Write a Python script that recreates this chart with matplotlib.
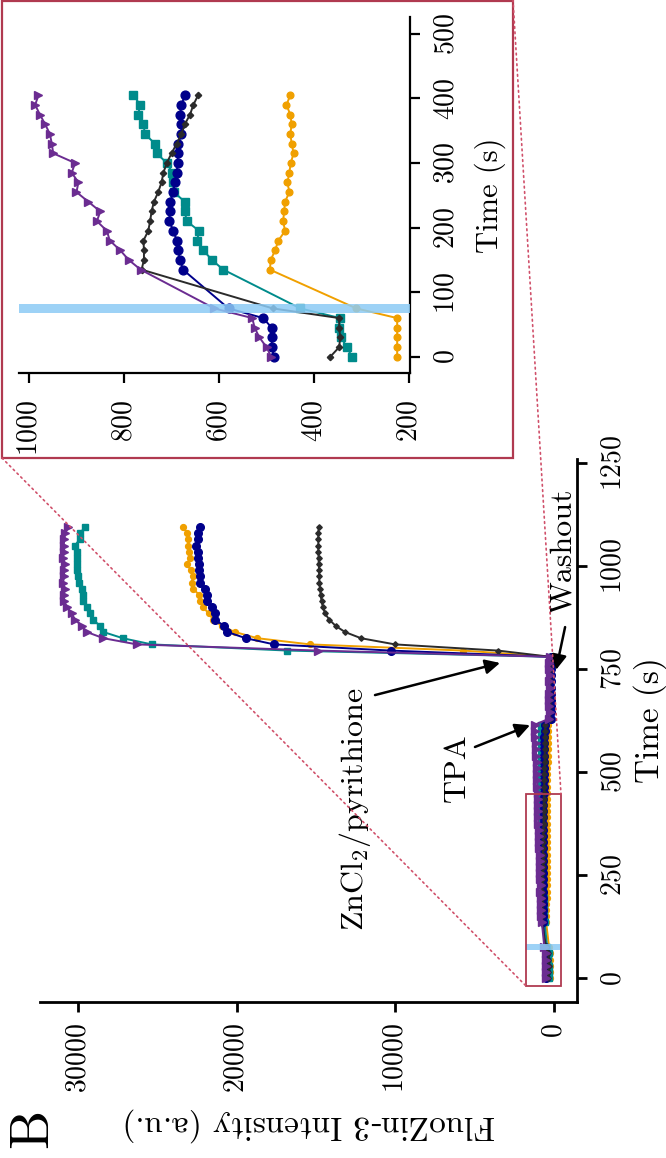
import matplotlib
matplotlib.use("Agg")
import matplotlib.pyplot as plt
from matplotlib.patches import Rectangle, ConnectionPatch

plt.rcParams['font.family'] = 'cmr10'
plt.rcParams['mathtext.fontset'] = 'cm'
plt.rcParams['axes.unicode_minus'] = False
plt.rcParams['axes.formatter.use_mathtext'] = True

# ---------------- data ----------------
time_s = [0, 15, 30, 45, 60, 75] + list(range(135, 1096, 15))

purple = ([490, 500, 515, 525, 530, 610]
          + [765, 790, 808, 830, 836, 857, 850, 875, 900, 896, 910, 903, 949, 952, 956, 966, 977, 987, 980]
          + [1005, 1012, 1038, 1041, 1066, 1070, 1098, 1102, 1125, 1131, 1158, 1166, 1190, 1215]
          + [290, 280, 300, 285, 290, 275, 295, 280, 290, 285, 260]
          + [14850, 26290, 28390, 29440, 29760, 30180, 30390, 30700, 30850, 30900, 30800,
             30950, 30850, 30900, 30800, 30950, 30850, 30900, 30850, 30800, 30600])

teal = ([320, 331, 343, 347, 345, 429]
        + [591, 615, 633, 646, 642, 668, 672, 672, 695, 696, 698, 710, 731, 735, 756, 759, 770, 766, 780]
        + [784, 795, 790, 802, 799, 810, 806, 815, 812, 822, 818, 827, 825, 834]
        + [240, 230, 245, 235, 240, 228, 238, 232, 240, 235, 225]
        + [16800, 25350, 27170, 28390, 28600, 29060, 29270, 29400, 29650, 29690, 29760,
           29920, 30010, 30030, 30070, 30030, 30030, 30180, 29900, 29860, 29550])

navy = ([484, 489, 489, 489, 507, 580]
        + [676, 682, 686, 689, 696, 705, 703, 703, 696, 693, 689, 687, 687, 686, 679, 679, 682, 679, 672]
        + [670, 662, 661, 652, 650, 641, 638, 630, 627, 616, 612, 600, 596, 588]
        + [210, 205, 215, 200, 210, 205, 212, 200, 208, 205, 200]
        + [10300, 17640, 19420, 20580, 20790, 21360, 21360, 21570, 21880, 21880, 21990,
           22300, 22300, 22340, 22340, 22410, 22450, 22550, 22410, 22450, 22300])

orange = ([225, 225, 225, 225, 225, 311]
          + [493, 491, 482, 475, 461, 465, 463, 461, 452, 456, 452, 449, 443, 447, 450, 447, 450, 458, 450]
          + [446, 437, 439, 430, 427, 419, 416, 404, 399, 388, 382, 370, 364, 350]
          + [180, 175, 185, 178, 182, 176, 184, 178, 180, 176, 170]
          + [5730, 15370, 18690, 20100, 20950, 21460, 21770, 22090, 22300, 22340, 22760,
             22830, 22760, 22890, 23140, 22930, 22970, 23040, 23040, 23100, 23400])

black = ([366, 347, 345, 347, 347, 487]
         + [763, 758, 758, 759, 749, 745, 742, 737, 728, 721, 717, 710, 700, 689, 679, 672, 661, 654, 644]
         + [640, 631, 629, 619, 616, 607, 604, 595, 591, 582, 579, 569, 566, 557]
         + [260, 255, 262, 250, 258, 252, 260, 250, 255, 250, 240]
         + [3530, 10020, 12160, 13170, 13760, 14160, 14430, 14560, 14650, 14700, 14750,
            14780, 14800, 14800, 14830, 14830, 14850, 14850, 14850, 14850, 14830])

series = [
    (orange, '#f0a000', 'o', 4.2),
    (teal, '#008b8b', 's', 4.5),
    (navy, '#00008b', 'o', 5.5),
    (black, '#2b2b2b', 'D', 2.8),
    (purple, '#6b2c91', '>', 5.5),
]

main_xticks = [0, 10000, 20000, 30000]
main_yticks = [0, 250, 500, 750, 1000, 1250]
inset_xticks = [200, 400, 600, 800, 1000]
inset_yticks = [0, 100, 200, 300, 400, 500]
band = (68, 82)
zoom_box = (-440, 1765, -19, 447)   # intensity range, time range

W, H = 666, 1158
fig = plt.figure(figsize=(W / 100, H / 100), dpi=100)

def style_axes(ax, spine_w):
    ax.spines['top'].set_visible(False)
    ax.spines['left'].set_visible(False)
    ax.spines['bottom'].set_linewidth(spine_w)
    ax.spines['right'].set_linewidth(spine_w)
    ax.yaxis.tick_right()
    ax.yaxis.set_label_position('right')
    ax.tick_params(direction='out', length=7, width=spine_w, labelsize=20)
    ax.patch.set_alpha(0)

# ---------------- main axes ----------------
ax = fig.add_axes([40 / W, 1 - 1002 / H, (577 - 40) / W, (1002 - 459) / H])
for vals, c, m, ms in series:
    ax.plot(vals, time_s, color=c, marker=m, ms=ms, lw=1.4, mec=c)
ax.set_xlim(32390, -1450)
ax.set_ylim(-58, 1260)
style_axes(ax, 2.0)
ax.set_xticks(main_xticks)
ax.set_yticks(main_yticks)
ax.tick_params(axis='x', labelrotation=90, pad=8)
ax.tick_params(axis='y', labelrotation=90, pad=10)
for lab in ax.get_yticklabels():
    lab.set_va('center')
ax.set_ylabel('Time (s)', fontsize=24, rotation=90)
ax.yaxis.set_label_coords(1.105, 0.52)
ax.set_xlabel('FluoZin-3 Intensity (a.u.)', fontsize=24, rotation=180)
ax.xaxis.set_label_coords(0.5, -0.195)

ax.fill_betweenx(list(band), zoom_box[0], zoom_box[1], color='#8ccbf5', alpha=0.85, lw=0, zorder=5)
ax.add_patch(Rectangle((zoom_box[0], zoom_box[2]), zoom_box[1] - zoom_box[0], zoom_box[3] - zoom_box[2],
                       fill=False, ec='#b03a50', lw=1.3, zorder=6))

arrow_kw = dict(arrowstyle='-|>', color='black', lw=1.8, mutation_scale=22, shrinkA=0, shrinkB=0)
ax.text(12540, 410, 'ZnCl$_2$/pyrithione', rotation=90, fontsize=23, ha='center', va='center')
ax.annotate('', xy=(3400, 765), xytext=(11280, 687), arrowprops=arrow_kw)
ax.text(6110, 510, 'TPA', rotation=90, fontsize=23, ha='center', va='center')
ax.annotate('', xy=(1510, 614), xytext=(4980, 561), arrowprops=arrow_kw)
ax.text(-570, 1036, 'Washout', rotation=90, fontsize=23, ha='center', va='center')
ax.annotate('', xy=(-126, 748), xytext=(-700, 852), arrowprops=arrow_kw)

fig.text(33 / W, 1 - 1128 / H, 'B', rotation=90, fontsize=40, ha='center', va='center')

# ---------------- inset ----------------
ins = fig.add_axes([19 / W, 1 - 373 / H, (410 - 19) / W, (373 - 17) / H])
for vals, c, m, ms in series:
    ins.plot(vals[:25], time_s[:25], color=c, marker=m, ms=ms * 1.15, lw=1.4, mec=c)
ins.set_xlim(1021, 198)
ins.set_ylim(-25, 526)
style_axes(ins, 1.6)
ins.set_xticks(inset_xticks)
ins.set_yticks(inset_yticks)
ins.tick_params(axis='x', labelrotation=90, pad=12)
ins.tick_params(axis='y', labelrotation=90, pad=10)
for lab in ins.get_yticklabels():
    lab.set_va('center')
ins.axhspan(band[0], band[1], color='#8ccbf5', alpha=0.85, lw=0, zorder=5)
ins.set_ylabel('Time (s)', fontsize=22, rotation=90)
ins.yaxis.set_label_coords(1.165, 0.5)

fig.add_artist(Rectangle((2 / W, 1 - 458 / H), 511 / W, 457 / H, transform=fig.transFigure,
                         fill=False, ec='#b03a50', lw=1.6))

dot_kw = dict(ls=(0, (1, 2.2)), color='#d0506a', lw=1.2)
fig.add_artist(ConnectionPatch(xyA=(2 / W, 1 - 458 / H), coordsA=fig.transFigure,
                               xyB=(zoom_box[1], zoom_box[2]), coordsB=ax.transData, **dot_kw))
fig.add_artist(ConnectionPatch(xyA=(513 / W, 1.0), coordsA=fig.transFigure,
                               xyB=(zoom_box[0], zoom_box[3]), coordsB=ax.transData, **dot_kw))

fig.savefig('out.png', dpi=100)
